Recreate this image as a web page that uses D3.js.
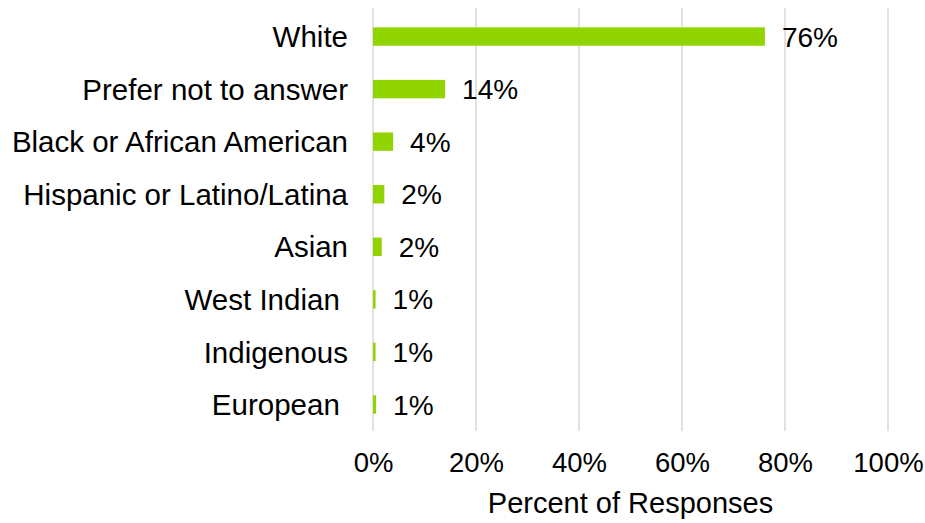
<!DOCTYPE html>
<html>
<head>
<meta charset="utf-8">
<script src="https://cdn.jsdelivr.net/npm/d3@7"></script>
<style>
  body { margin: 0; background: #fff; }
  text { font-family: "Liberation Sans", Arial, sans-serif; fill: #000; white-space: pre; }
</style>
</head>
<body>
<div id="chart"></div>
<script>
// data
const categories = ['White', 'Prefer not to answer', 'Black or African American',
  'Hispanic or Latino/Latina', 'Asian', 'West Indian ', 'Indigenous', 'European '];
const values = [76.1, 14.0, 3.9, 2.2, 1.7, 0.5, 0.5, 0.6];
const valueLabels = ['76%', '14%', '4%', '2%', '2%', '1%', '1%', '1%'];
const xTicks = [0, 20, 40, 60, 80, 100];

const width = 925, height = 523;
const margin = { top: 10, right: 37, bottom: 92, left: 373 };

const svg = d3.select('#chart').append('svg')
  .attr('width', width)
  .attr('height', height);

const x = d3.scaleLinear()
  .domain([0, 100])
  .range([margin.left, width - margin.right]);

const y = d3.scaleBand()
  .domain(categories)
  .range([margin.top, height - margin.bottom])
  .paddingInner(0.65)
  .paddingOuter(0.33);

// vertical gridlines
svg.append('g')
  .selectAll('line')
  .data(xTicks)
  .enter().append('line')
    .attr('x1', d => x(d))
    .attr('x2', d => x(d))
    .attr('y1', margin.top - 2)
    .attr('y2', height - margin.bottom)
    .attr('stroke', '#d9d9d9')
    .attr('stroke-width', 1.5);

// bars
svg.append('g')
  .selectAll('rect')
  .data(values)
  .enter().append('rect')
    .attr('x', x(0))
    .attr('y', (d, i) => y(categories[i]))
    .attr('width', d => x(d) - x(0))
    .attr('height', y.bandwidth())
    .attr('fill', '#92d400');

// value labels
svg.append('g')
  .selectAll('text')
  .data(values)
  .enter().append('text')
    .attr('x', d => x(d) + 17)
    .attr('y', (d, i) => y(categories[i]) + y.bandwidth() / 2)
    .attr('dy', '0.36em')
    .style('font-size', '28px')
    .text((d, i) => valueLabels[i]);

// category labels
svg.append('g')
  .selectAll('text')
  .data(categories)
  .enter().append('text')
    .attr('x', 348)
    .attr('y', d => y(d) + y.bandwidth() / 2)
    .attr('dy', '0.36em')
    .attr('text-anchor', 'end')
    .style('font-size', '29.5px')
    .text(d => d);

// x tick labels
const xAxis = d3.axisBottom(x)
  .tickValues(xTicks)
  .tickSize(0)
  .tickPadding(0)
  .tickFormat(d => d + '%');

svg.append('g')
  .attr('transform', 'translate(0,' + 472 + ')')
  .call(xAxis)
  .call(g => g.select('.domain').remove())
  .call(g => g.selectAll('text')
    .attr('dy', 0)
    .attr('y', 0)
    .style('font-size', '27.5px')
    .style('font-family', '"Liberation Sans", Arial, sans-serif')
    .attr('fill', '#000'));

// axis title
svg.append('text')
  .attr('x', (x(0) + x(100)) / 2)
  .attr('y', 513)
  .attr('text-anchor', 'middle')
  .style('font-size', '29px')
  .text('Percent of Responses');
</script>
</body>
</html>
